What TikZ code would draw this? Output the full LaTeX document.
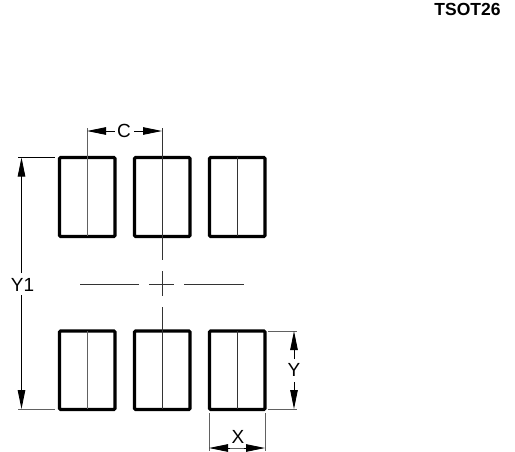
\documentclass[tikz,border=0pt]{standalone}
\usepackage{fontspec}
\setmainfont{Liberation Sans}
\usetikzlibrary{arrows.meta}
\tikzset{
  x=1pt,y=-1pt,
  pad/.style={draw=black,line width=3.2pt,rounded corners=1.2pt},
  thin line/.style={draw=black!62,line width=1pt},
  dark line/.style={draw=black!80,line width=0.9pt},
  dim line/.style={draw=black,line width=0.9pt},
  dim arrow/.style={draw=black,line width=0.9pt,-{Triangle[length=19pt,width=7.5pt]}},
  lab/.style={font=\fontsize{19}{19}\selectfont,inner sep=0pt},
}
\begin{document}
\begin{tikzpicture}
\useasboundingbox (0,0) rectangle (515,451);
\node[font=\bfseries\fontsize{17.5}{18}\selectfont,inner sep=0pt] (title) at (467.5,9.5) {TSOT26};
% pads
\foreach \n/\xa/\xb in {a/59.5/115,b/134.5/190,c/209.5/265}{
  \draw[pad] (\xa,157.5) rectangle (\xb,236.5);
  \draw[pad] (\xa,331) rectangle (\xb,409.5);
}
\draw[thin line] (87,128) -- (87,236);
\draw[dark line] (237,157) -- (237,236);
\draw[thin line] (87,331) -- (87,409);
\draw[dark line] (237,331) -- (237,409);
% centre lines
\draw[dark line] (162,128) -- (162,260);
\draw[dark line] (162,271) -- (162,296);
\draw[dark line] (162,307) -- (162,409);
\draw[dark line] (80,284) -- (138.5,284);
\draw[dark line] (149,284) -- (174,284);
\draw[dark line] (184,284) -- (244,284);
% Y1
\draw[dim line] (18,157.5) -- (55,157.5);
\draw[thin line] (18,409) -- (55,409);
\node[lab] (yone) at (22.5,285) {Y1};
\coordinate (yonet) at (21.5,157.5);
\coordinate (yoneb) at (21.5,409);
\draw[dim arrow] (21.5,273) -- (yonet);
\draw[dim arrow] (21.5,295) -- (yoneb);
% C
\node[lab] (c) at (124,131) {C};
\coordinate (cl) at (87,131);
\coordinate (cr) at (162,131);
\draw[dim arrow] (114.5,131) -- (cl);
\draw[dim arrow] (134,131) -- (cr);
% Y
\draw[thin line] (268,331) -- (297,331);
\draw[thin line] (268,409) -- (297,409);
\node[lab] (y) at (294,370) {Y};
\coordinate (yt) at (294,331);
\coordinate (yb) at (294,409);
\draw[dim arrow] (294,359) -- (yt);
\draw[dim arrow] (294,382) -- (yb);
% X
\draw[thin line] (209,413) -- (209,451);
\draw[thin line] (265,413) -- (265,451);
\node[lab] (xl) at (238,437) {X};
\coordinate (xa) at (209,448);
\coordinate (xb) at (265,448);
\draw[thin line] (228,448) -- (246,448);
\draw[dim arrow] (230,448) -- (xa);
\draw[dim arrow] (244,448) -- (xb);
\end{tikzpicture}
\end{document}
